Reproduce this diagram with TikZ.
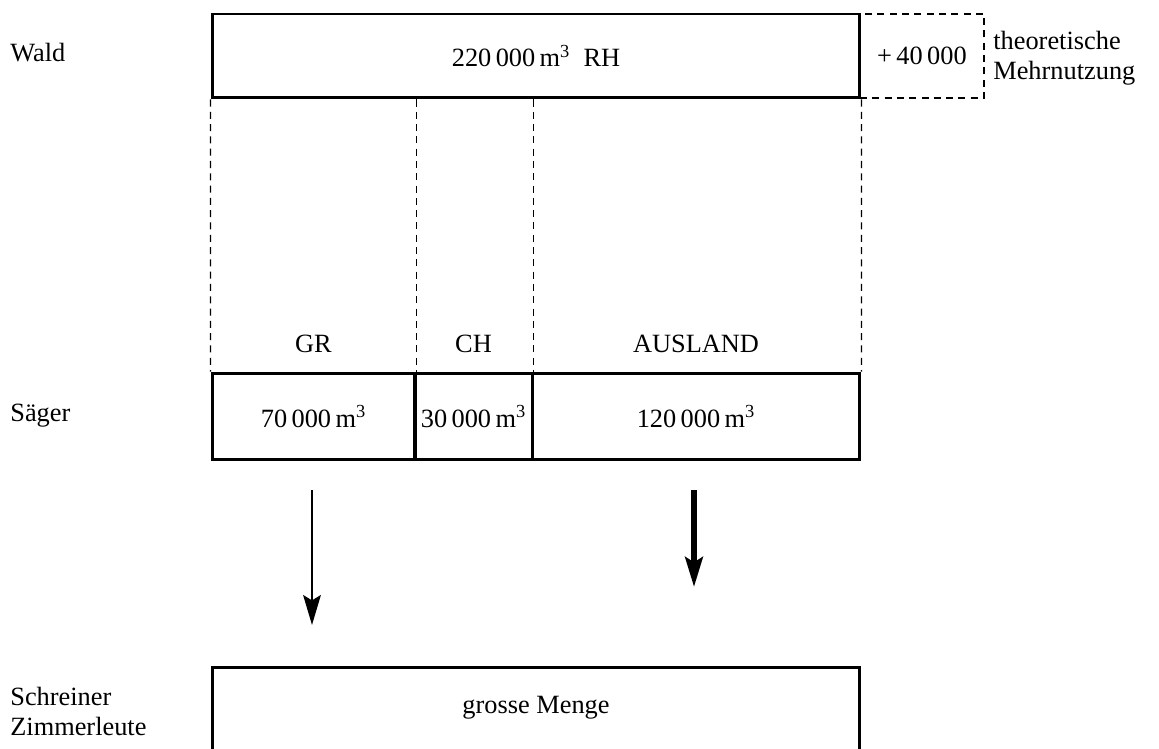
\documentclass[tikz,border=0pt]{standalone}
\usepackage{fontspec}
\setmainfont{Liberation Serif}
\usetikzlibrary{positioning, arrows.meta}
\newcommand\cbm{\,m\textsuperscript{3}}

\begin{document}
\begin{tikzpicture}[x=0.02cm, y=-0.02cm,
    font=\fontsize{15}{17}\selectfont,
    box/.style={draw, line width=1.7pt, inner sep=0pt, minimum height=1.7cm},
    dline/.style={dashed, line width=0.7pt, dash pattern=on 4pt off 3pt},
    thinarr/.style={line width=1.5pt, -{Stealth[length=17pt, width=10pt, inset=3pt]}},
    thickarr/.style={line width=3.2pt, -{Stealth[length=17pt, width=10pt, inset=3pt]}}]
  \useasboundingbox (0,0) rectangle (1159,749);

  % Wald
  \node [box, minimum width=12.96cm, minimum height=1.68cm] (wald) at (536,56)
        {220\,000\cbm\enspace RH};
  \node [box, dline, minimum width=2.48cm, minimum height=1.68cm] (extra) at (922,56)
        {+\,40\,000};
  \node [anchor=west, align=left, inner sep=0pt] (mehr) at (993,58)
        {theoretische\\Mehrnutzung};

  % Saeger
  \node [box, minimum width=4.06cm, minimum height=1.74cm] (gr) at (313.5,416.5) {70\,000\cbm};
  \node [box, minimum width=2.34cm, minimum height=1.74cm] (ch) at (473.5,416.5) {30\,000\cbm};
  \node [box, minimum width=6.56cm, minimum height=1.74cm] (aus) at (696,416.5) {120\,000\cbm};

  % dashed split lines
  \draw [dline] (wald.south west) -- (gr.north west);
  \draw [dline] (gr.north east |- wald.south) -- (gr.north east);
  \draw [dline] (ch.north east |- wald.south) -- (ch.north east);
  \draw [dline] (wald.south east) -- (aus.north east);

  \node (grlab) at (313.5,344) {GR};
  \node (chlab) at (473.5,344) {CH};
  \node (auslab) at (696,344) {AUSLAND};

  % Schreiner / Zimmerleute
  \node [box, minimum width=12.96cm, minimum height=1.8cm] (menge) at (536,712) {};
  \node [below=0.5cm of menge.north] (mengetxt) {grosse Menge};

  \coordinate (a1) at (312,490);
  \coordinate (b1) at (312,625);
  \coordinate (a2) at (694,490);
  \coordinate (b2) at (694,587);
  \draw [thinarr] (a1) -- (b1);
  \draw [thickarr] (a2) -- (b2);

  % row labels
  \node [anchor=base west, inner sep=0pt] (waldlab) at (10,62) {Wald};
  \node [anchor=base west, inner sep=0pt] (saeglab) at (10,422) {Säger};
  \node [anchor=base west, align=left, inner sep=0pt] (schrlab) at (10,735)
        {Schreiner\\Zimmerleute};
\end{tikzpicture}
\end{document}
